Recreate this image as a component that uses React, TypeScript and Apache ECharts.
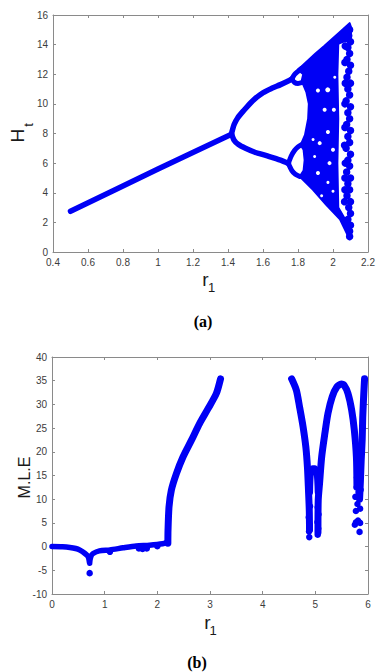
import React, { useEffect, useRef } from "react";
import * as echarts from "echarts";

const BLUE = "#0000f5";
const AXIS_GREY = "#8a8a8a";
const LABEL_GREY = "#3c3c3c";

// ---------- (a) bifurcation diagram: H_t versus r_1 ----------
const aXTicks = { min: 0.4, max: 2.2, interval: 0.2 };
const aYTicks = { min: 0, max: 16, interval: 2 };

const period1: number[][] = [[0.5, 2.75], [1.0, 5.6], [1.42, 7.95]];
const upperBranch: number[][] = [
  [1.42, 7.98], [1.435, 8.6], [1.455, 9.05], [1.49, 9.55], [1.54, 10.2],
  [1.6, 10.75], [1.65, 11.05], [1.7, 11.3], [1.75, 11.58], [1.765, 11.68],
];
const lowerBranch: number[][] = [
  [1.42, 7.98], [1.435, 7.55], [1.46, 7.25], [1.5, 7.0], [1.55, 6.75],
  [1.62, 6.5], [1.7, 6.2], [1.745, 5.98],
];
const upperLoopTop: number[][] = [[1.765, 11.68], [1.78, 11.98], [1.8, 12.2], [1.82, 12.4]];
const upperLoopBottom: number[][] = [[1.765, 11.68], [1.78, 11.45], [1.8, 11.38], [1.825, 11.45]];
const lowerLoopTop: number[][] = [[1.745, 5.98], [1.76, 6.45], [1.78, 6.85], [1.8, 7.1], [1.82, 7.25]];
const lowerLoopBottom: number[][] = [[1.745, 5.98], [1.765, 5.5], [1.785, 5.25], [1.81, 5.1]];

// outline of the dense chaotic band
const chaosOutline: number[][] = [
  [1.8, 12.3], [1.9, 13.4], [1.95, 13.9], [2.03, 14.75], [2.095, 15.45],
  [2.105, 15.1], [2.1, 14.3], [2.06, 14.2], [2.03, 14.05], [2.025, 12.0],
  [2.03, 9.0], [2.025, 6.0], [2.03, 3.0], [2.06, 2.4], [2.1, 1.6],
  [2.1, 1.0], [2.095, 0.85], [2.04, 2.2], [1.96, 3.2], [1.886, 4.2],
  [1.81, 5.1], [1.832, 5.5], [1.838, 6.2], [1.832, 6.9], [1.815, 7.22],
  [1.84, 7.9], [1.858, 9.0], [1.862, 10.0], [1.848, 10.8], [1.83, 11.3],
  [1.822, 11.6], [1.83, 12.0],
];
// white gaps inside the chaotic band
const chaosGaps: number[][] = [
  [1.914, 10.9, 4], [1.97, 10.95, 5], [1.952, 9.6, 4], [2.005, 9.6, 4],
  [1.886, 7.6, 3], [1.924, 7.35, 4], [1.971, 8.1, 4],
  [2.0, 6.9, 4], [1.895, 6.45, 3], [1.98, 6.0, 4], [1.914, 5.33, 4],
  [1.971, 4.7, 3], [2.0, 4.1, 3], [1.935, 3.8, 3], [2.01, 11.8, 3],
];
// isolated orbit points at the right edge
const edgeDots: number[][] = [
  [2.095, 15.0], [2.09, 14.6], [2.1, 14.2], [2.085, 13.8], [2.095, 13.4],
  [2.08, 13.0], [2.1, 12.6], [2.09, 12.2], [2.08, 11.8], [2.1, 11.4],
  [2.085, 11.0], [2.095, 10.6], [2.075, 10.2], [2.1, 9.8], [2.085, 9.4],
  [2.095, 9.0], [2.078, 8.6], [2.1, 8.2], [2.085, 7.8], [2.095, 7.4],
  [2.075, 7.0], [2.1, 6.6], [2.085, 6.2], [2.095, 5.8], [2.078, 5.4],
  [2.1, 5.0], [2.085, 4.6], [2.095, 4.2], [2.08, 3.8], [2.1, 3.4],
  [2.09, 3.0], [2.1, 2.6], [2.085, 2.2], [2.1, 1.8], [2.095, 1.4], [2.095, 1.05],
  [2.068, 12.8], [2.068, 10.0], [2.066, 7.2], [2.068, 5.0], [2.066, 3.4],
  [2.07, 13.9], [2.07, 11.4], [2.068, 8.4], [2.07, 6.0], [2.068, 4.2],
];

// ---------- (b) maximal Lyapunov exponent versus r_1 ----------
const bXTicks = { min: 0, max: 6, interval: 1 };
const bYTicks = { min: -10, max: 40, interval: 5 };

const mleLowLeft: number[][] = [
  [0, 0], [0.2, -0.05], [0.34, -0.18], [0.45, -0.4], [0.53, -0.74],
  [0.62, -1.4], [0.685, -2.1], [0.715, -3.5],
];
const mleLowRight: number[][] = [
  [0.715, -3.2], [0.74, -2.0], [0.78, -1.45], [0.9, -0.9], [1.1, -0.7],
  [1.35, -0.25], [1.6, 0.15], [1.85, 0.3], [2.1, 0.6], [2.18, 0.9],
];
const mleRise: number[][] = [
  [2.2, 0.7], [2.203, 3.5], [2.222, 8.4], [2.266, 11.9], [2.362, 15.4],
  [2.487, 18.9], [2.646, 22.4], [2.804, 26.0], [2.963, 29.1], [3.12, 32.3],
  [3.2, 35.4],
];
const mleArcLeft: number[][] = [
  [4.55, 35.4], [4.64, 33.0], [4.7, 29.5], [4.767, 25.3], [4.82, 21.0],
  [4.85, 16.8], [4.87, 11.9], [4.885, 7.7], [4.89, 3.5],
];
const mleHump: number[][] = [
  [4.895, 11.5], [4.91, 15.3], [4.95, 16.5], [4.99, 16.5], [5.03, 15.5], [5.05, 11.5],
];
const mleArcRight: number[][] = [
  [5.05, 3.0], [5.055, 9.8], [5.08, 13.3], [5.12, 18.9], [5.18, 23.8],
  [5.24, 28.1], [5.32, 31.6], [5.41, 33.7], [5.49, 34.3], [5.55, 34.0],
  [5.62, 32.3], [5.69, 28.8], [5.74, 24.6], [5.78, 18.9], [5.79, 13.0],
];
const mleArcEnd: number[][] = [
  [5.84, 10.0], [5.856, 13.8], [5.87, 18.0], [5.89, 22.7], [5.9, 27.3],
  [5.92, 32.3], [5.935, 35.4],
];
const mleDots: number[][] = [
  [0.715, -5.6], [1.1, -1.1], [1.65, -0.4], [1.72, -0.5], [1.8, -0.4], [2.0, 0.1],
  [4.885, 2.0], [4.88, 3.2], [4.895, 4.6], [4.875, 6.2], [4.9, 8.5],
  [5.045, 2.5], [5.055, 3.8], [5.04, 5.2], [5.06, 6.8], [5.045, 8.3],
  [5.75, 4.6], [5.77, 5.1], [5.81, 5.5], [5.84, 3.1], [5.85, 5.0],
  [5.77, 7.5], [5.8, 9.0], [5.76, 10.5], [5.82, 11.5], [5.79, 14.6],
  [5.83, 16.5], [5.8, 17.5], [5.85, 8.0], [5.86, 12.0], [5.78, 12.5],
];

const axisBase = (show: boolean) => ({
  axisLine: { show: true, onZero: false, lineStyle: { color: AXIS_GREY, width: 1 } },
  axisTick: { show: true, inside: true, length: 3, lineStyle: { color: AXIS_GREY } },
  splitLine: { show: false },
  axisLabel: {
    show,
    color: LABEL_GREY,
    fontSize: 10,
    fontFamily: "'Liberation Sans', Arial, sans-serif",
    margin: 5,
  },
});

const lineSeries = (data: number[][], xi: number, width: number) => ({
  type: "line",
  xAxisIndex: xi,
  yAxisIndex: xi,
  data,
  symbol: "none",
  smooth: 0.25,
  silent: true,
  lineStyle: { color: BLUE, width, cap: "round", join: "round" },
});

const dotSeries = (data: number[][], xi: number, size: number, color: string) => ({
  type: "scatter",
  xAxisIndex: xi,
  yAxisIndex: xi,
  data,
  silent: true,
  symbol: "circle",
  symbolSize: (v: number[]) => (v.length > 2 ? v[2] : size),
  itemStyle: { color, opacity: 1 },
});

const txt = (
  text: string,
  x: number,
  y: number,
  size: number,
  opts: Record<string, unknown> = {}
) => ({
  type: "text",
  x,
  y,
  silent: true,
  rotation: (opts.rotation as number) || 0,
  style: {
    text,
    fill: (opts.fill as string) || "#1a1a1a",
    fontSize: size,
    fontWeight: (opts.weight as string) || "normal",
    fontFamily: (opts.family as string) || "Liberation Sans",
    align: "center",
    verticalAlign: "middle",
  },
});

export default function App() {
  const ref = useRef<HTMLDivElement>(null);
  useEffect(() => {
    if (!ref.current) return;
    const chart = echarts.init(ref.current, undefined, { renderer: "svg" });
    chart.setOption({
      animation: false,
      backgroundColor: "#ffffff",
      grid: [
        { left: 53, top: 15, width: 315, height: 237 },
        { left: 52, top: 357, width: 316, height: 237 },
      ],
      xAxis: [
        { type: "value", gridIndex: 0, position: "bottom", ...aXTicks, ...axisBase(true) },
        { type: "value", gridIndex: 0, position: "top", ...aXTicks, ...axisBase(false) },
        { type: "value", gridIndex: 1, position: "bottom", ...bXTicks, ...axisBase(true) },
        { type: "value", gridIndex: 1, position: "top", ...bXTicks, ...axisBase(false) },
      ],
      yAxis: [
        { type: "value", gridIndex: 0, position: "left", ...aYTicks, ...axisBase(true) },
        { type: "value", gridIndex: 0, position: "right", ...aYTicks, ...axisBase(false) },
        { type: "value", gridIndex: 1, position: "left", ...bYTicks, ...axisBase(true) },
        { type: "value", gridIndex: 1, position: "right", ...bYTicks, ...axisBase(false) },
      ],
      series: [
        {
          type: "custom",
          xAxisIndex: 0,
          yAxisIndex: 0,
          data: [[2.0, 8.0]],
          silent: true,
          renderItem: (_p: unknown, api: any) => ({
            type: "polygon",
            shape: { points: chaosOutline.map((pt) => api.coord(pt)) },
            style: { fill: BLUE, stroke: BLUE, lineWidth: 2, lineJoin: "round" },
          }),
        },
        dotSeries(chaosGaps, 0, 4, "#ffffff"),
        dotSeries(edgeDots, 0, 7.5, BLUE),
        lineSeries(period1, 0, 5.5),
        lineSeries(upperBranch, 0, 5.5),
        lineSeries(lowerBranch, 0, 5.5),
        lineSeries(upperLoopTop, 0, 5),
        lineSeries(upperLoopBottom, 0, 5),
        lineSeries(lowerLoopTop, 0, 5),
        lineSeries(lowerLoopBottom, 0, 5),

        lineSeries(mleLowLeft, 2, 5.5),
        lineSeries(mleLowRight, 2, 5.5),
        lineSeries(mleRise, 2, 7),
        lineSeries(mleArcLeft, 2, 7),
        lineSeries(mleHump, 2, 6.5),
        lineSeries(mleArcRight, 2, 7),
        lineSeries(mleArcEnd, 2, 7),
        dotSeries(mleDots, 2, 6.5, BLUE),
      ],
      graphic: [
        txt("H", 17.7, 135.7, 19, { rotation: Math.PI / 2 }),
        txt("t", 28, 125, 13, { rotation: Math.PI / 2 }),
        txt("r", 205.5, 279, 19),
        txt("1", 211.5, 287.5, 13),
        txt("(a)", 203, 321, 16, { weight: "bold", family: "Liberation Serif", fill: "#000" }),
        txt("M.L.E", 24, 477.5, 16, { rotation: Math.PI / 2 }),
        txt("r", 207.3, 622, 19),
        txt("1", 213, 630.5, 13),
        txt("(b)", 197, 662, 16, { weight: "bold", family: "Liberation Serif", fill: "#000" }),
      ],
    });
    return () => chart.dispose();
  }, []);
  return (
    <div
      ref={ref}
      style={{ position: "fixed", left: 0, top: 0, width: 382, height: 672, background: "#fff" }}
    />
  );
}
